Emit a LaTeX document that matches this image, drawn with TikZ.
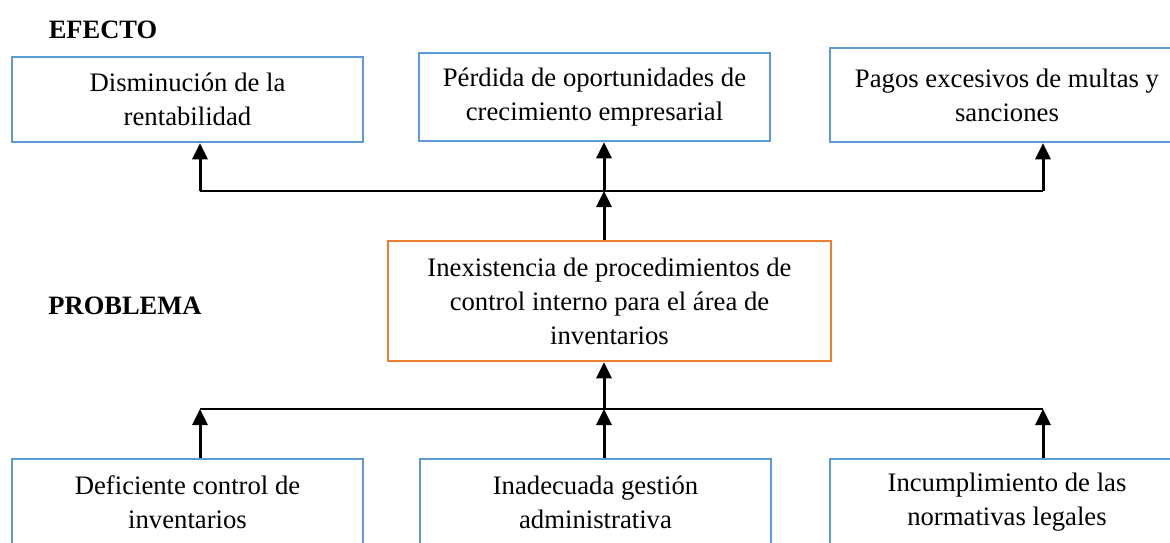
\documentclass[tikz,border=0pt]{standalone}
\usepackage{fontspec}
\setmainfont{Liberation Serif}
\usetikzlibrary{arrows.meta}
\definecolor{boxblue}{RGB}{91,155,213}
\definecolor{boxorange}{RGB}{237,125,49}
\begin{document}
\begin{tikzpicture}[x=1pt,y=-1pt,
  box/.style={draw=boxblue,line width=2.5pt,inner sep=0pt,align=center,
    font=\fontsize{26.7}{34}\selectfont},
  probbox/.style={box,draw=boxorange},
  lbl/.style={font=\fontsize{26.5}{30}\selectfont\bfseries,inner sep=0pt},
  hline/.style={line width=1.5pt},
  arr/.style={line width=3pt,-{Triangle[length=16pt,width=15pt]}}
]
\useasboundingbox (0,0) rectangle (1170,542);
\clip (0,0) rectangle (1170,542);

\node[lbl] (efecto) at (103,30) {EFECTO};
\node[lbl] (problema) at (125,306) {PROBLEMA};

\node[box,minimum width=351pt,minimum height=85pt] (e1) at (187.5,99.5)
  {Disminución de la\\rentabilidad};
\node[box,minimum width=351pt,minimum height=88pt] (e2) at (594.5,97)
  {Pérdida de oportunidades de\\crecimiento empresarial};
\node[box,minimum width=354pt,minimum height=94pt] (e3) at (1007,95)
  {Pagos excesivos de multas y\\sanciones};

\node[probbox,minimum width=443pt,minimum height=120pt] (prob) at (609.5,301)
  {Inexistencia de procedimientos de\\control interno para el área de\\inventarios};

\node[box,minimum width=351pt,minimum height=86pt] (c1) at (187.5,502)
  {Deficiente control de\\inventarios};
\node[box,minimum width=351pt,minimum height=86pt] (c2) at (595.5,502)
  {Inadecuada gestión\\administrativa};
\node[box,minimum width=354pt,minimum height=86pt] (c3) at (1007,502)
  {Incumplimiento de las\\normativas legales};

\coordinate (t1) at (200,191);
\coordinate (t2) at (604,191);
\coordinate (t3) at (1043,191);
\coordinate (b1) at (200,409);
\coordinate (b2) at (604,409);
\coordinate (b3) at (1043,409);

\draw[hline] (t1) -- (t3);
\draw[arr] (t1) -- (t1 |- e1.south);
\draw[arr] (t2) -- (t2 |- e2.south);
\draw[arr] (t3) -- (t3 |- e3.south);
\draw[arr] (t2 |- prob.north) -- (t2);

\draw[hline] (b1) -- (b3);
\draw[arr] (b2) -- (b2 |- prob.south);
\draw[arr] (b1 |- c1.north) -- (b1);
\draw[arr] (b2 |- c2.north) -- (b2);
\draw[arr] (b3 |- c3.north) -- (b3);
\end{tikzpicture}
\end{document}
